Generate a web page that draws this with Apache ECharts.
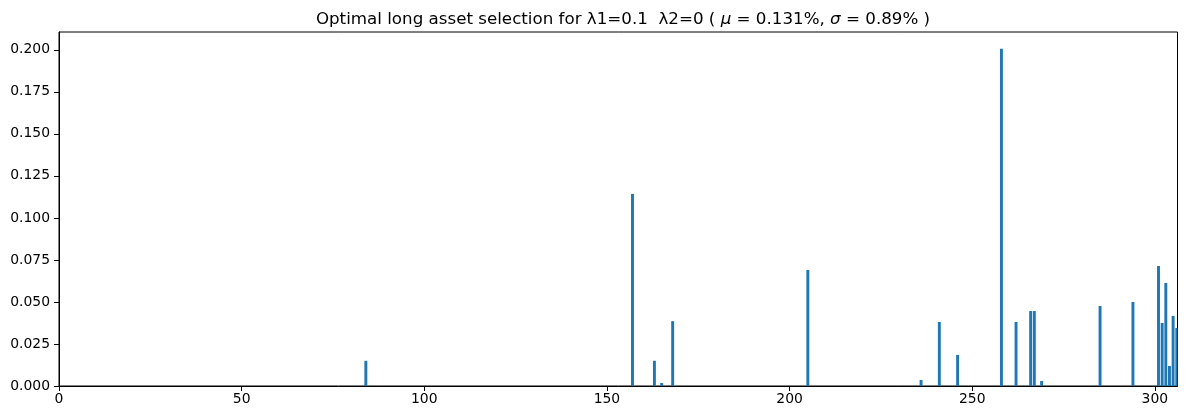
<!DOCTYPE html>
<html>
<head>
<meta charset="utf-8">
<script src="https://cdn.jsdelivr.net/npm/echarts@6/dist/echarts.min.js"></script>
<style>
html,body{margin:0;padding:0;background:#fff;}
#chart{width:1189px;height:420px;}
</style>
</head>
<body>
<div id="chart"></div>
<script>
// Asset indices with non-zero weights
const assetIndex = [84, 157, 163, 165, 168, 205, 236, 241, 246, 258, 262, 266, 267, 269, 285, 294, 301, 302, 303, 304, 305, 306];
// Weights for those assets
const weights = [0.0150, 0.1143, 0.0150, 0.0018, 0.0386, 0.0690, 0.0036, 0.0381, 0.0185, 0.2006, 0.0381, 0.0446, 0.0446, 0.0030, 0.0476, 0.0500, 0.0714, 0.0375, 0.0613, 0.0119, 0.0417, 0.0345];
const xTicks = [0, 50, 100, 150, 200, 250, 300];
const yTicks = [0, 0.025, 0.05, 0.075, 0.1, 0.125, 0.15, 0.175, 0.2];
const titleText = ['Optimal long asset selection for λ1=0.1  λ2=0 ( ', 'μ', ' = 0.131%, ', 'σ', ' = 0.89% )'];

const data = assetIndex.map((x, i) => [x, weights[i]]);
const FONT = 'DejaVu Sans';
const BAR_W = 0.8;

const chart = echarts.init(document.getElementById('chart'), null, {renderer: 'canvas'});
chart.setOption({
  animation: false,
  backgroundColor: '#ffffff',
  title: {
    text: '{n|' + titleText[0] + '}{i|' + titleText[1] + '}{n|' + titleText[2] + '}{i|' + titleText[3] + '}{n|' + titleText[4] + '}',
    left: 618,
    textAlign: 'center',
    top: 6,
    textStyle: {
      rich: {
        n: {fontFamily: FONT, fontSize: 16.7, color: '#000', fontWeight: 'normal'},
        i: {fontFamily: FONT, fontSize: 16.7, color: '#000', fontStyle: 'italic', fontWeight: 'normal'}
      }
    }
  },
  grid: {
    left: 59, right: 11.5, top: 32, bottom: 34,
    show: true, borderColor: '#000', borderWidth: 1, backgroundColor: 'transparent'
  },
  xAxis: {
    type: 'value',
    min: 0, max: 306.2,
    interval: 50,
    splitLine: {show: false},
    axisLine: {show: true, onZero: false, lineStyle: {color: '#000', width: 1}},
    axisTick: {show: true, length: 5, lineStyle: {color: '#000', width: 1}, customValues: xTicks},
    axisLabel: {fontFamily: FONT, fontSize: 13.9, color: '#000', margin: 6, customValues: xTicks,
      formatter: v => String(v)}
  },
  yAxis: {
    type: 'value',
    min: 0, max: 0.2106,
    splitLine: {show: false},
    axisLine: {show: true, lineStyle: {color: '#000', width: 1}},
    axisTick: {show: true, length: 5, lineStyle: {color: '#000', width: 1}, customValues: yTicks},
    axisLabel: {fontFamily: FONT, fontSize: 13.9, color: '#000', margin: 9, customValues: yTicks,
      formatter: v => v.toFixed(3)}
  },
  series: [{
    type: 'custom',
    data: data,
    encode: {x: 0, y: 1},
    renderItem: function (params, api) {
      const x = api.value(0), y = api.value(1);
      const p0 = api.coord([x - BAR_W / 2, y]);
      const p1 = api.coord([x + BAR_W / 2, 0]);
      const shape = echarts.graphic.clipRectByRect(
        {x: p0[0], y: p0[1], width: p1[0] - p0[0], height: p1[1] - p0[1]},
        {x: params.coordSys.x, y: params.coordSys.y, width: params.coordSys.width, height: params.coordSys.height}
      );
      return shape && {type: 'rect', shape: shape, style: {fill: '#1f77b4'}};
    }
  }]
});
</script>
</body>
</html>
